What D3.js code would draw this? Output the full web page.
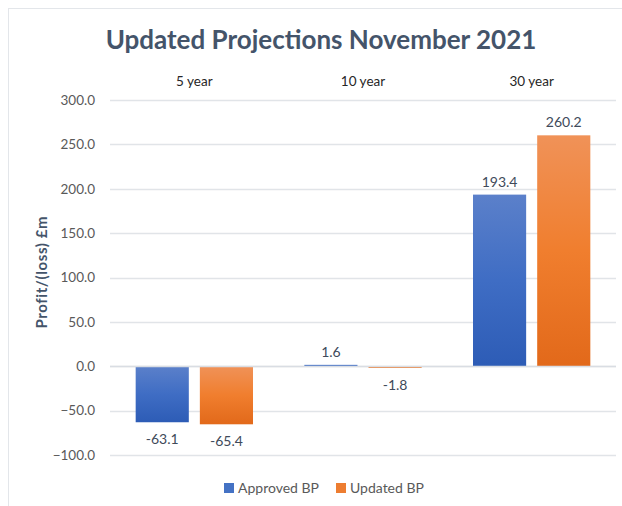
<!DOCTYPE html>
<html>
<head>
<meta charset="utf-8">
<script src="https://cdn.jsdelivr.net/npm/d3@7"></script>
<style>
  body { margin: 0; background: #fff; }
  svg { display: block; font-family: Lato, "Open Sans", sans-serif; }
</style>
</head>
<body>
<svg width="622" height="506"></svg>
<script>
var categories = ["5 year", "10 year", "30 year"];
var seriesNames = ["Approved BP", "Updated BP"];
var approved = [-63.1, 1.6, 193.4];
var updated = [-65.4, -1.8, 260.2];
var yTicks = [-100, -50, 0, 50, 100, 150, 200, 250, 300];

var svg = d3.select("svg"),
    width = +svg.attr("width"),
    height = +svg.attr("height");

var margin = { left: 110, right: 6, top: 100, bottom: 51 };

var rows = categories.map(function(c, i) {
    return { cat: c, values: [approved[i], updated[i]] };
});

// chart frame
svg.append("rect")
    .attr("x", 8.5).attr("y", 8.5)
    .attr("width", width + 10).attr("height", height + 10)
    .attr("fill", "none")
    .attr("stroke", "#e3e6ea");

var x = d3.scaleBand()
    .domain(categories)
    .range([margin.left, width - margin.right]);

var x1 = d3.scaleBand()
    .domain(seriesNames)
    .range([0, x.bandwidth()])
    .paddingInner(0.172)
    .paddingOuter(0.4);

var y = d3.scaleLinear()
    .domain([-100, 300])
    .range([height - margin.bottom, margin.top]);

var defs = svg.append("defs");
var grads = [
    { id: "gBlue", top: "#5b80ca", mid: "#3f6dc4", bottom: "#2d5cb6" },
    { id: "gOrange", top: "#f09258", mid: "#f07e2e", bottom: "#e2691a" }
];
grads.forEach(function(g) {
    var lg = defs.append("linearGradient")
        .attr("id", g.id)
        .attr("x1", 0).attr("y1", 0).attr("x2", 0).attr("y2", 1);
    lg.append("stop").attr("offset", "0%").attr("stop-color", g.top);
    lg.append("stop").attr("offset", "50%").attr("stop-color", g.mid);
    lg.append("stop").attr("offset", "100%").attr("stop-color", g.bottom);
});
var fills = { "Approved BP": "url(#gBlue)", "Updated BP": "url(#gOrange)" };
var legendFills = { "Approved BP": "#4472c4", "Updated BP": "#ed7d31" };

// title
svg.append("text")
    .attr("x", 321)
    .attr("y", 49)
    .attr("text-anchor", "middle")
    .attr("font-size", 26)
    .attr("font-weight", "bold")
    .attr("fill", "#44546a")
    .text("Updated Projections November 2021");

// gridlines
svg.append("g")
    .selectAll("line")
    .data(yTicks)
    .enter().append("line")
    .attr("x1", margin.left)
    .attr("x2", width - margin.right)
    .attr("y1", function(d) { return Math.round(y(d)) + 0.5; })
    .attr("y2", function(d) { return Math.round(y(d)) + 0.5; })
    .attr("stroke", "#e1e4e8")
    .attr("stroke-width", 1.3);

// y axis labels
var yAxis = svg.append("g")
    .attr("transform", "translate(" + margin.left + ",0)")
    .call(d3.axisLeft(y).tickValues(yTicks).tickSize(0).tickPadding(15)
        .tickFormat(d3.format(".1f")));
yAxis.select(".domain").remove();
yAxis.selectAll("text")
    .attr("font-size", 13.5)
    .attr("fill", "#595959")
    .attr("font-family", "Lato, sans-serif");

// category labels on top
var xAxis = svg.append("g")
    .attr("transform", "translate(0," + (margin.top - 14) + ")")
    .call(d3.axisTop(x).tickSize(0).tickPadding(0));
xAxis.select(".domain").remove();
xAxis.selectAll("text")
    .attr("font-size", 13.5)
    .attr("fill", "#262626")
    .attr("font-family", "Lato, sans-serif");

// bars
var group = svg.append("g")
    .selectAll(".group")
    .data(rows)
    .enter().append("g")
    .attr("class", "group")
    .attr("transform", function(d) { return "translate(" + x(d.cat) + ",0)"; });

var bar = group.selectAll(".bar")
    .data(function(d) {
        return d.values.map(function(v, i) { return { name: seriesNames[i], value: v }; });
    })
    .enter();

bar.append("rect")
    .attr("class", "bar")
    .attr("x", function(d) { return x1(d.name); })
    .attr("width", x1.bandwidth())
    .attr("y", function(d) { return y(Math.max(0, d.value)); })
    .attr("height", function(d) { return Math.max(1.5, Math.abs(y(d.value) - y(0))); })
    .attr("fill", function(d) { return fills[d.name]; });

bar.append("text")
    .attr("x", function(d) { return x1(d.name) + x1.bandwidth() / 2; })
    .attr("y", function(d) { return d.value >= 0 ? y(d.value) - 8 : y(d.value) + 22; })
    .attr("text-anchor", "middle")
    .attr("font-size", 14)
    .attr("fill", "#404a5a")
    .text(function(d) { return d.value.toFixed(1); });

// zero axis line over bars
svg.append("line")
    .attr("x1", margin.left)
    .attr("x2", width - margin.right)
    .attr("y1", Math.round(y(0)) + 0.5)
    .attr("y2", Math.round(y(0)) + 0.5)
    .attr("stroke", "#d9dde3")
    .attr("stroke-width", 1.3);

// y axis title
svg.append("text")
    .attr("transform", "translate(47," + y(106) + ") rotate(-90)")
    .attr("text-anchor", "middle")
    .attr("font-size", 15)
    .attr("letter-spacing", 0.6)
    .attr("font-weight", "bold")
    .attr("fill", "#44546a")
    .text("Profit/(loss) £m");

// legend
var legend = svg.append("g")
    .selectAll(".legend")
    .data(seriesNames)
    .enter().append("g")
    .attr("class", "legend")
    .attr("transform", function(d, i) { return "translate(" + (224 + i * 112) + ",483)"; });

legend.append("rect")
    .attr("width", 10).attr("height", 10)
    .attr("fill", function(d) { return legendFills[d]; });

legend.append("text")
    .attr("x", 14)
    .attr("y", 10)
    .attr("font-size", 14)
    .attr("fill", "#595959")
    .text(function(d) { return d; });
</script>
</body>
</html>
